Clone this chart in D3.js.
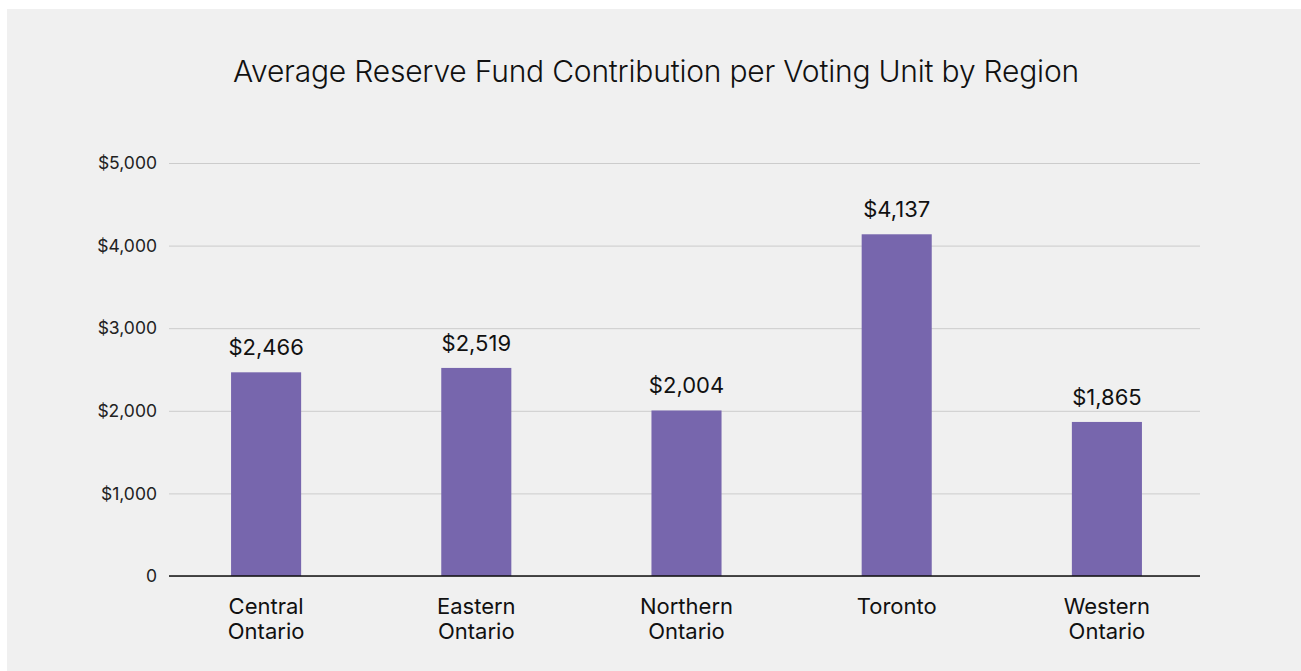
<!DOCTYPE html>
<html>
<head>
<meta charset="utf-8">
<script src="https://cdn.jsdelivr.net/npm/d3@7"></script>
<style>
  body { margin: 0; background: #fff; }
  svg { display: block; font-family: Inter, "Liberation Sans", sans-serif; }
</style>
</head>
<body>
<div id="chart"></div>
<script>
var regions = [["Central", "Ontario"], ["Eastern", "Ontario"], ["Northern", "Ontario"], ["Toronto"], ["Western", "Ontario"]];
var contributions = [2466, 2519, 2004, 4137, 1865];
var yTicks = [0, 1000, 2000, 3000, 4000, 5000];

var W = 1301, H = 671;
var svg = d3.select("#chart").append("svg")
    .attr("width", W)
    .attr("height", H);

svg.append("rect")
    .attr("x", 7).attr("y", 9)
    .attr("width", W - 7).attr("height", H - 9)
    .attr("fill", "#f0f0f0");

svg.append("text")
    .attr("x", 656).attr("y", 82)
    .attr("text-anchor", "middle")
    .attr("font-size", 30)
    .attr("font-weight", 300)
    .attr("letter-spacing", -0.2)
    .attr("fill", "#111")
    .text("Average Reserve Fund Contribution per Voting Unit by Region");

var x = d3.scaleBand()
    .domain(d3.range(regions.length))
    .range([161, 1212])
    .paddingInner(2 / 3)
    .paddingOuter(1 / 3);

var y = d3.scaleLinear()
    .domain([0, 5000])
    .range([576, 163]);

// grid + y labels
var yAxis = svg.append("g")
    .attr("transform", "translate(169,0)")
    .call(d3.axisLeft(y).tickValues(yTicks)
      .tickSize(-1031)
      .tickPadding(12)
      .tickFormat(function (d) { return d === 0 ? "0" : "$" + d3.format(",")(d); }));
yAxis.select(".domain").remove();
yAxis.selectAll(".tick line").attr("stroke", "#cccccc").attr("stroke-width", 1);
yAxis.selectAll(".tick text")
    .attr("font-size", 17.5)
    .attr("fill", "#222")
    .attr("font-family", "Inter, 'Liberation Sans', sans-serif");

// bars
svg.append("g").selectAll("rect")
    .data(contributions)
    .enter().append("rect")
      .attr("x", function (d, i) { return x(i); })
      .attr("y", function (d) { return y(d); })
      .attr("width", x.bandwidth())
      .attr("height", function (d) { return y(0) - y(d); })
      .attr("fill", "#7766ad");

// value labels
svg.append("g").selectAll("text")
    .data(contributions)
    .enter().append("text")
      .attr("x", function (d, i) { return x(i) + x.bandwidth() / 2; })
      .attr("y", function (d) { return y(d) - 17; })
      .attr("text-anchor", "middle")
      .attr("font-size", 22)
      .attr("fill", "#111")
      .text(function (d) { return "$" + d3.format(",")(d); });

// baseline
svg.append("line")
    .attr("x1", 169).attr("x2", 1200)
    .attr("y1", y(0)).attr("y2", y(0))
    .attr("stroke", "#111").attr("stroke-width", 1.5);

// category labels
var cat = svg.append("g").selectAll("text")
    .data(regions)
    .enter().append("text")
      .attr("x", function (d, i) { return x(i) + x.bandwidth() / 2; })
      .attr("y", 614)
      .attr("text-anchor", "middle")
      .attr("font-size", 22)
      .attr("fill", "#111");
cat.selectAll("tspan")
    .data(function (d) { return d; })
    .enter().append("tspan")
      .attr("x", function () { return d3.select(this.parentNode).attr("x"); })
      .attr("dy", function (d, i) { return i === 0 ? 0 : 25; })
      .text(function (d) { return d; });
</script>
</body>
</html>
